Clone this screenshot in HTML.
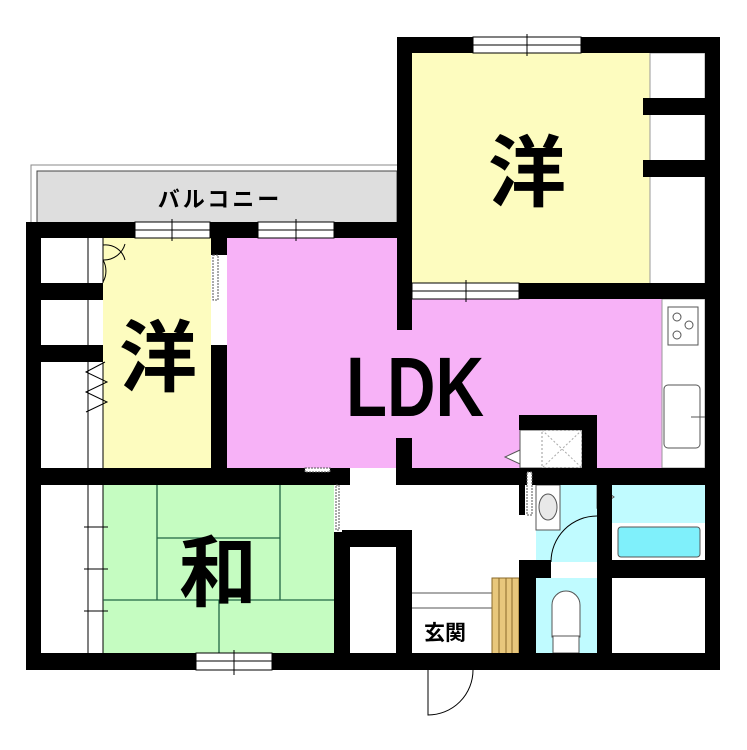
<!DOCTYPE html>
<html><head><meta charset="utf-8"><style>
html,body{margin:0;padding:0;background:#fff}
svg{display:block}
text{font-family:"Liberation Sans","Noto Sans CJK JP",sans-serif;font-weight:bold;fill:#000}
</style></head><body>
<svg width="747" height="750" viewBox="0 0 747 750" xmlns="http://www.w3.org/2000/svg">
<!-- balcony -->
<rect x="31" y="165" width="367" height="58" fill="#fff" stroke="#888" stroke-width="1"/>
<rect x="37" y="171" width="360" height="52" fill="#dedede" stroke="#444" stroke-width="1"/>
<text x="220" y="207" font-size="22" text-anchor="middle" letter-spacing="3">バルコニー</text>
<!-- room fills -->
<rect x="412" y="53" width="238" height="231" fill="#fdfcbf"/>
<rect x="650" y="53" width="55" height="231" fill="#fff" stroke="#999" stroke-width="1"/>
<rect x="103" y="238" width="108" height="230" fill="#fdfcbf"/>
<rect x="227" y="238" width="185" height="230" fill="#f7b2f7"/>
<rect x="400" y="299" width="262" height="169" fill="#f7b2f7"/>
<rect x="662" y="299" width="43" height="169" fill="#fff" stroke="#999" stroke-width="1"/>
<rect x="103" y="485" width="231" height="168" fill="#c5fcc1"/>
<rect x="536" y="485" width="61" height="77" fill="#c0fbff"/>
<rect x="612" y="485" width="93" height="75" fill="#fff"/>
<rect x="612" y="485" width="93" height="38" fill="#c0fbff"/>
<rect x="618" y="527" width="82" height="30" rx="3" fill="#7ff0fb" stroke="#555"/>
<rect x="536" y="578" width="61" height="75" fill="#c0fbff"/>
<!-- closets left -->
<line x1="88" y1="238" x2="88" y2="468" stroke="#000"/>
<line x1="103" y1="238" x2="103" y2="283" stroke="#000"/>
<line x1="103" y1="362" x2="103" y2="468" stroke="#000"/>
<path d="M103 260 A22 22 0 0 1 103 282 M103 260 A22 22 0 0 0 125 244" fill="none" stroke="#000"/>
<path d="M103 245 A20 20 0 0 1 125 260" fill="none" stroke="#000"/>
<polyline points="105,362 86,372 107,382 86,392 107,402 86,412" fill="none" stroke="#000"/>
<line x1="88" y1="485" x2="88" y2="653" stroke="#000"/>
<line x1="103" y1="485" x2="103" y2="653" stroke="#000"/>
<line x1="84" y1="527" x2="108" y2="527" stroke="#000"/><line x1="84" y1="569" x2="108" y2="569" stroke="#000"/><line x1="84" y1="611" x2="108" y2="611" stroke="#000"/>
<!-- tatami -->
<g stroke="#264" stroke-width="1.3">
<line x1="157" y1="485" x2="157" y2="600"/><line x1="280" y1="485" x2="280" y2="600"/>
<line x1="157" y1="538" x2="280" y2="538"/><line x1="103" y1="600" x2="334" y2="600"/>
<line x1="219" y1="600" x2="219" y2="653"/></g>
<!-- kitchen -->
<rect x="668" y="307" width="30" height="38" fill="#fff" stroke="#555"/>
<circle cx="677" cy="317" r="4" fill="none" stroke="#555"/><circle cx="689" cy="325" r="4" fill="none" stroke="#555"/><circle cx="677" cy="335" r="4" fill="none" stroke="#555"/>
<rect x="664" y="385" width="36" height="63" rx="4" fill="#fff" stroke="#555"/>
<line x1="691" y1="417" x2="705" y2="417" stroke="#555"/>
<!-- fridge area -->
<rect x="520" y="430" width="62" height="38" fill="#fff" stroke="#555"/>
<rect x="542" y="430" width="40" height="38" fill="none" stroke="#999" stroke-dasharray="2 2"/>
<path d="M542 430 L582 468 M582 430 L542 468" stroke="#aaa" stroke-dasharray="2 2"/>
<polygon points="520,450 505,457 520,464" fill="#fff" stroke="#555"/>
<!-- washbasin -->
<rect x="536" y="485" width="24" height="45" fill="#fff" stroke="#555"/>
<ellipse cx="548" cy="507" rx="9" ry="13" fill="#e8e8e8" stroke="#555"/>
<path d="M551 562 A46 46 0 0 1 597 516" fill="none" stroke="#000"/>
<polygon points="597,485 614,497 597,508" fill="#fff" stroke="#555"/>
<!-- toilet -->
<path d="M552 637 L552 605 A12 12 0 0 1 580 605 L580 637 Z" fill="#fff" stroke="#555"/>
<rect x="553" y="636" width="26" height="17" fill="#fff" stroke="#555"/>
<!-- genkan -->
<line x1="412" y1="593" x2="492" y2="593" stroke="#555"/>
<line x1="412" y1="608" x2="492" y2="608" stroke="#555"/>
<rect x="492" y="578" width="27" height="77" fill="#e8c77c" stroke="#8a6a2a"/>
<g stroke="#8a6a2a"><line x1="499" y1="578" x2="499" y2="655"/><line x1="506" y1="578" x2="506" y2="655"/><line x1="512" y1="578" x2="512" y2="655"/></g>
<text x="445" y="640" font-size="21" text-anchor="middle">玄関</text>
<path d="M428 670 L428 715 A45 45 0 0 0 473 670" fill="#fff" stroke="#000"/>
<!-- walls -->
<g fill="#000">
<rect x="397" y="37" width="323" height="16"/>
<rect x="397" y="37" width="15" height="293"/>
<rect x="705" y="37" width="15" height="633"/>
<rect x="643" y="98" width="62" height="17"/><rect x="643" y="160" width="62" height="17"/>
<rect x="519" y="283" width="201" height="16"/>
<rect x="26" y="222" width="386" height="16"/>
<rect x="26" y="222" width="15" height="448"/>
<rect x="41" y="283" width="62" height="17"/><rect x="41" y="345" width="62" height="17"/>
<rect x="211" y="222" width="16" height="33"/><rect x="211" y="345" width="16" height="123"/>
<rect x="26" y="468" width="324" height="17"/>
<rect x="396" y="438" width="16" height="47"/>
<rect x="396" y="468" width="324" height="17"/>
<rect x="519" y="415" width="78" height="15"/><rect x="582" y="415" width="15" height="55"/>
<rect x="334" y="532" width="16" height="138"/>
<rect x="342" y="530" width="70" height="17"/>
<rect x="396" y="530" width="16" height="140"/>
<rect x="26" y="653" width="694" height="17"/>
<rect x="519" y="470" width="6" height="45"/>
<rect x="519" y="560" width="17" height="110"/>
<rect x="519" y="560" width="32" height="18"/>
<rect x="597" y="485" width="15" height="185"/>
<rect x="597" y="560" width="123" height="18"/>
</g>
<!-- windows -->
<g fill="#fff" stroke="#000" stroke-width="1">
<rect x="473" y="37" width="108" height="16"/><line x1="473" y1="45" x2="581" y2="45"/><line x1="527" y1="34" x2="527" y2="56"/>
<rect x="412" y="283" width="107" height="16"/><line x1="412" y1="291" x2="519" y2="291"/><line x1="466" y1="280" x2="466" y2="302"/>
<rect x="135" y="222" width="75" height="16"/><line x1="135" y1="230" x2="210" y2="230"/><line x1="172" y1="219" x2="172" y2="241"/>
<rect x="258" y="222" width="76" height="16"/><line x1="258" y1="230" x2="334" y2="230"/><line x1="296" y1="219" x2="296" y2="241"/>
<rect x="196" y="653" width="76" height="17"/><line x1="196" y1="661" x2="272" y2="661"/><line x1="234" y1="650" x2="234" y2="675"/>
</g>
<!-- sliding doors dotted -->
<rect x="213" y="255" width="5" height="45" fill="#fff" stroke="#555" stroke-dasharray="2 1"/>
<rect x="305" y="468" width="25" height="4" fill="#fff" stroke="#555" stroke-dasharray="2 1"/>
<rect x="336" y="485" width="3" height="45" fill="#fff" stroke="#555" stroke-dasharray="2 1"/>
<rect x="527" y="472" width="5" height="43" fill="#fff" stroke="#555" stroke-dasharray="2 1"/>
<!-- labels -->
<text x="527" y="200" font-size="78" text-anchor="middle">洋</text>
<text x="158" y="385" font-size="78" text-anchor="middle">洋</text>
<text x="218" y="600" font-size="78" text-anchor="middle">和</text>
<text x="415" y="416" font-size="84" text-anchor="middle" transform="translate(415 0) scale(0.8 1) translate(-415 0)">LDK</text>
</svg>
</body></html>
